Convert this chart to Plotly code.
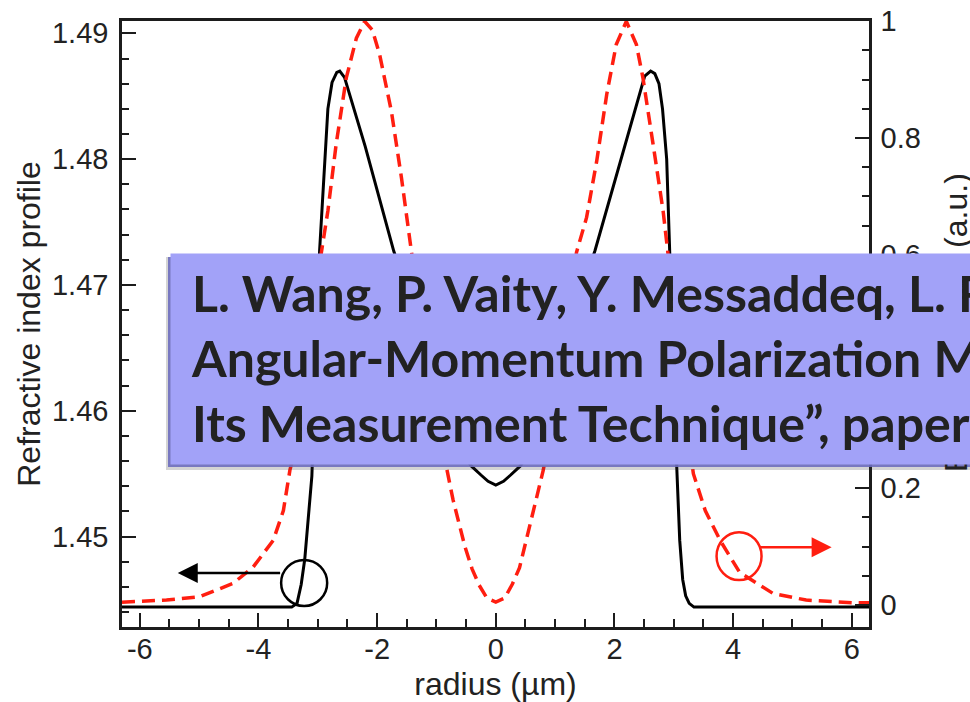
import plotly.graph_objects as go

# ---------------- data ----------------
radius_index = [-6.3, -3.44, -3.35, -3.28, -3.22, -3.10, -2.97, -2.88, -2.83, -2.76, -2.68,
                -2.63, -2.55, -2.2, -1.72, -1.4, -1.0, -0.7, -0.5, -0.41, -0.25, -0.13, 0.0,
                0.13, 0.25, 0.41, 0.5, 0.7, 1.0, 1.4, 1.67, 2.2, 2.51, 2.61, 2.68, 2.75, 2.81,
                2.88, 2.93, 2.99, 3.05, 3.10, 3.15, 3.20, 3.26, 3.34, 6.3]
index_profile = [1.4444, 1.4444, 1.4447, 1.4462, 1.4482, 1.4548, 1.4727, 1.4800, 1.4840, 1.4861,
                 1.4869, 1.4870, 1.4865, 1.4810, 1.4727, 1.4682, 1.4626, 1.4585, 1.4562, 1.4556,
                 1.4549, 1.4544, 1.4541, 1.4544, 1.4549, 1.4556, 1.4562, 1.4585, 1.4626, 1.4690,
                 1.4727, 1.4816, 1.4866, 1.4870, 1.4868, 1.4860, 1.4840, 1.4800, 1.4727, 1.4640,
                 1.4555, 1.4497, 1.4466, 1.4453, 1.4447, 1.4444, 1.4444]

radius_field = [-6.3, -5.55, -5.0, -4.43, -4.09, -3.75, -3.58, -3.47, -3.35, -3.25, -3.1, -2.94,
                -2.83, -2.69, -2.52, -2.35, -2.21, -2.08, -1.96, -1.76, -1.59, -1.42, -1.2, -1.0,
                -0.84, -0.72, -0.52, -0.4, -0.28, -0.15, 0.0, 0.15, 0.28, 0.4, 0.6, 0.8, 1.0,
                1.2, 1.36, 1.53, 1.70, 1.87, 2.03, 2.2, 2.37, 2.48, 2.65, 2.82, 2.90, 3.05, 3.2,
                3.33, 3.53, 3.78, 4.11, 4.67, 5.23, 6.02, 6.3]
field_amplitude = [0.005, 0.0085, 0.014, 0.037, 0.065, 0.111, 0.162, 0.231, 0.28, 0.34, 0.46, 0.604,
                   0.675, 0.79, 0.903, 0.971, 1.0, 0.985, 0.944, 0.846, 0.732, 0.604, 0.47, 0.345,
                   0.24, 0.18, 0.10, 0.062, 0.034, 0.012, 0.005, 0.012, 0.036, 0.064, 0.145, 0.231,
                   0.35, 0.48, 0.604, 0.664, 0.76, 0.875, 0.96, 1.0, 0.96, 0.903, 0.79, 0.675,
                   0.604, 0.46, 0.32, 0.225, 0.162, 0.111, 0.056, 0.02, 0.0085, 0.004, 0.004]

x_tick_vals = [-6, -4, -2, 0, 2, 4, 6]
x_tick_text = ["-6", "-4", "-2", "0", "2", "4", "6"]

box_lines = [
    "L. Wang, P. Vaity, Y. Messaddeq, L. Rusch, and S. LaRochelle, \u201cOrbital-",
    "Angular-Momentum Polarization Mode Dispersion in Optical Fibers and",
    "Its Measurement Technique\u201d, paper",
]

# ---------------- geometry helpers (pixels -> paper) ----------------
W, H = 970, 702
ML, MR, MT, MB = 122, 101, 21, 75
PW, PH = W - ML - MR, H - MT - MB


def px(xp):
    return (xp - ML) / PW


def py(yp):
    return (H - MB - yp) / PH


AX = "#1c1c1c"
TICKFONT = dict(family="Liberation Sans, Arial, sans-serif", size=29, color="#222222")
TITLEFONT = dict(family="Liberation Sans, Arial, sans-serif", size=32, color="#222222")

fig = go.Figure()
fig.add_trace(go.Scatter(x=radius_index, y=index_profile, mode="lines", yaxis="y",
                         line=dict(color="black", width=3), name="Refractive index"))
fig.add_trace(go.Scatter(x=radius_field, y=field_amplitude, mode="lines", yaxis="y2",
                         line=dict(color="#ff1e10", width=3.5, dash="13px,7px"), name="Field"))

common = dict(showline=True, linecolor=AX, linewidth=2.5, ticks="inside", ticklen=14,
              tickwidth=2, tickcolor=AX, showgrid=False, zeroline=False, tickfont=TICKFONT,
              automargin=False)

fig.update_layout(
    width=W, height=H, margin=dict(l=ML, r=MR, t=MT, b=MB),
    paper_bgcolor="white", plot_bgcolor="white", showlegend=False,
    xaxis=dict(range=[-6.3, 6.29], mirror=True, tickmode="array", tickvals=x_tick_vals,
               ticktext=x_tick_text, ticklabelstandoff=-6,
               minor=dict(ticks="inside", ticklen=8, tickwidth=1.5, tickcolor=AX,
                          tickmode="linear", tick0=0, dtick=0.5),
               title=dict(text="radius (\u00b5m)", font=TITLEFONT, standoff=14), **common),
    yaxis=dict(range=[1.44282, 1.49098], tick0=1.45, dtick=0.01, ticklabelstandoff=5,
               minor=dict(ticks="inside", ticklen=7, tickwidth=1.5, tickcolor=AX, dtick=0.002,
                          tick0=1.45),
               title=dict(text="Refractive index profile", font=TITLEFONT, standoff=2), **common),
    yaxis2=dict(range=[-0.0376, 1.0005], overlaying="y", side="right", tick0=0, dtick=0.2,
                ticklabelstandoff=3,
                minor=dict(ticks="inside", ticklen=7, tickwidth=1.5, tickcolor=AX, dtick=0.05,
                           tick0=0), **common),
)

# circles marking which curve belongs to which axis
black_c = dict(x=-3.23, y=1.44632, rx=0.388, ry=0.00183)
red_c = dict(x=4.10, y=0.0838, rx=0.379, ry=0.041)
fig.add_shape(type="circle", xref="x", yref="y", x0=black_c["x"] - black_c["rx"],
              x1=black_c["x"] + black_c["rx"], y0=black_c["y"] - black_c["ry"],
              y1=black_c["y"] + black_c["ry"], line=dict(color="black", width=2.5))
fig.add_shape(type="circle", xref="x", yref="y2", x0=red_c["x"] - red_c["rx"],
              x1=red_c["x"] + red_c["rx"], y0=red_c["y"] - red_c["ry"],
              y1=red_c["y"] + red_c["ry"], line=dict(color="#ff1e10", width=2.5))

# shadow of the citation box
fig.add_shape(type="rect", xref="paper", yref="paper", x0=px(166), x1=px(1400), y0=py(470),
              y1=py(257), fillcolor="rgba(60,60,60,0.22)", line=dict(width=0), layer="above")
fig.add_shape(type="rect", xref="paper", yref="paper", x0=px(168), x1=px(1400), y0=py(467),
              y1=py(257), fillcolor="rgba(110,110,190,0.9)", line=dict(width=0), layer="above")

annotations = [
    dict(x=-5.36, y=1.44712, ax=-3.61, ay=1.44712, xref="x", yref="y", axref="x", ayref="y",
         text="", showarrow=True, arrowhead=2, arrowsize=1.6, arrowwidth=2.5, arrowcolor="black"),
    dict(x=5.66, y=0.099, ax=4.42, ay=0.099, xref="x", yref="y2", axref="x", ayref="y2",
         text="", showarrow=True, arrowhead=2, arrowsize=1.6, arrowwidth=2.5, arrowcolor="#ff1e10"),
    # right-hand axis title (mostly hidden by the citation box)
    dict(x=px(956), y=py(322), xref="paper", yref="paper", text="E field intensity (a.u.)",
         textangle=-90, showarrow=False, font=TITLEFONT, xanchor="center", yanchor="middle"),
    # citation box background
    dict(x=px(170), y=py(253), xref="paper", yref="paper", text=" ", showarrow=False,
         xanchor="left", yanchor="top", width=1400, height=210, borderpad=0,
         bgcolor="#a2a2f8"),
    # citation text
    dict(x=px(189), y=py(358), xref="paper", yref="paper", text="<br>".join(box_lines),
         showarrow=False, xanchor="left", yanchor="middle", align="left",
         font=dict(family="Lato, 'Open Sans', sans-serif", size=50, color="#222222",
                   weight="bold")),
]
fig.update_layout(annotations=annotations)

fig.write_html("out.html")
